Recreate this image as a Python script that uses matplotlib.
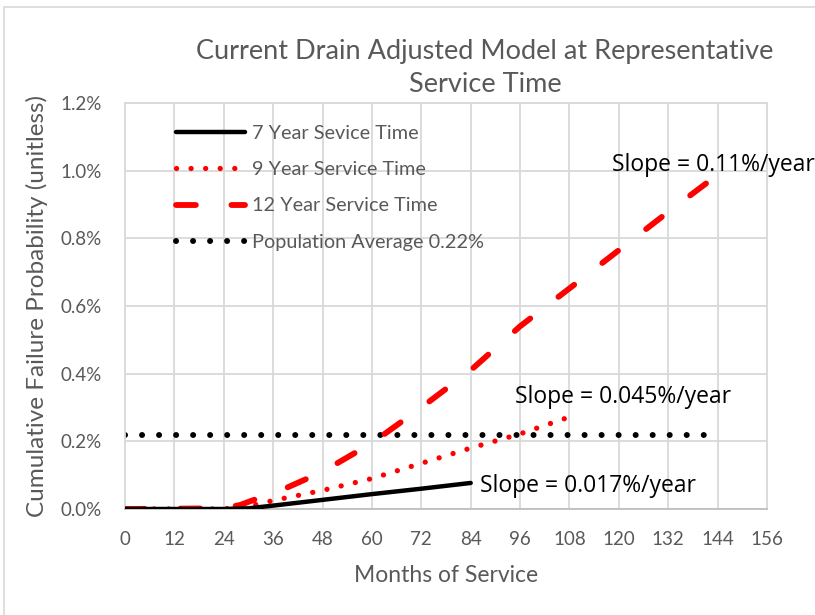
import matplotlib.pyplot as plt
from matplotlib.patches import Rectangle
from matplotlib.ticker import FuncFormatter

plt.rcParams["font.family"] = ["Lato", "DejaVu Sans"]

# months of service and cumulative failure probability (%)
months_7 = [0, 24, 30, 36, 48, 60, 72, 84]
prob_7 = [0.0, 0.0, 0.002, 0.010, 0.027, 0.044, 0.060, 0.077]

months_9 = [0, 24, 30, 36, 48, 60, 72, 84, 96, 108]
prob_9 = [0.0, 0.0, 0.008, 0.025, 0.055, 0.090, 0.135, 0.180, 0.222, 0.272]

months_12 = [0, 24, 28, 32, 36, 48, 60, 72, 84, 96, 108, 120, 132, 141.5]
prob_12 = [0.0, 0.002, 0.012, 0.030, 0.045, 0.110, 0.195, 0.300, 0.410,
           0.540, 0.652, 0.765, 0.878, 0.965]

months_avg = [0, 142]
prob_avg = [0.22, 0.22]

slope_labels = ["Slope = 0.11%/year", "Slope = 0.045%/year", "Slope = 0.017%/year"]
slope_pos = [(118.3, 1.018), (94.8, 0.331), (86.3, 0.068)]

gray = "#595959"
grid = "#d9d9d9"

fig = plt.figure(figsize=(8.15, 6.15), dpi=100)
fig.patches.append(Rectangle((4 / 815, -0.1), 1.2, 1.1 - 7 / 615,
                             transform=fig.transFigure, fill=False,
                             edgecolor=grid, linewidth=1.2))
ax = fig.add_axes([125 / 815, 106 / 615, 642 / 815, 406 / 615])

ax.plot(months_7, prob_7, color="black", linewidth=3.2,
        solid_capstyle="round", label="7 Year Sevice Time", zorder=4)
ax.plot(months_9, prob_9, color="red", linewidth=3.8,
        linestyle=(0, (0.01, 2.75)), dash_capstyle="round",
        label="9 Year Service Time", zorder=3)
ax.plot(months_12, prob_12, color="red", linewidth=4.2,
        linestyle=(0, (3.4, 6.1)), dash_capstyle="round",
        label="12 Year Service Time", zorder=3)
ax.plot(months_avg, prob_avg, color="black", linewidth=4.3,
        linestyle=(0, (0.01, 2.84)), dash_capstyle="round",
        label="Population Average 0.22%", zorder=2)

for txt, (x, y) in zip(slope_labels, slope_pos):
    ax.text(x, y, txt, fontsize=16.5, color="black", va="center",
            ha="left", clip_on=False,
            family=["Open Sans", "DejaVu Sans"])

ax.set_xlim(0, 156)
ax.set_ylim(0, 1.2)
ax.set_xticks(range(0, 157, 12))
ax.set_yticks([0, 0.2, 0.4, 0.6, 0.8, 1.0, 1.2])
ax.yaxis.set_major_formatter(FuncFormatter(lambda v, p: f"{v:.1f}%"))
ax.tick_params(length=0, labelsize=13.5, labelcolor=gray)
ax.tick_params(axis="x", pad=16)
ax.tick_params(axis="y", pad=17)
ax.grid(True, color=grid, linewidth=1.3)
ax.set_axisbelow(True)
for s in ax.spines.values():
    s.set_color(grid)
    s.set_linewidth(1.3)
ax.spines["bottom"].set_color("#bfbfbf")

ax.set_xlabel("Months of Service", fontsize=16.5, color=gray, labelpad=12)
ax.set_ylabel("Cumulative Failure Probability (unitless)", fontsize=17.5,
              color=gray, labelpad=9)

fig.text(485 / 815, 1 - 68 / 615,
         "Current Drain Adjusted Model at Representative\nService Time",
         ha="center", va="center", fontsize=19.5, color=gray, linespacing=1.45)

leg = ax.legend(loc="upper left", bbox_to_anchor=(0.051, 0.99), frameon=False,
                fontsize=14.3, handlelength=3.5, labelspacing=0.97,
                handletextpad=0.35)
for t in leg.get_texts():
    t.set_color(gray)

fig.savefig("out.png", dpi=100)
